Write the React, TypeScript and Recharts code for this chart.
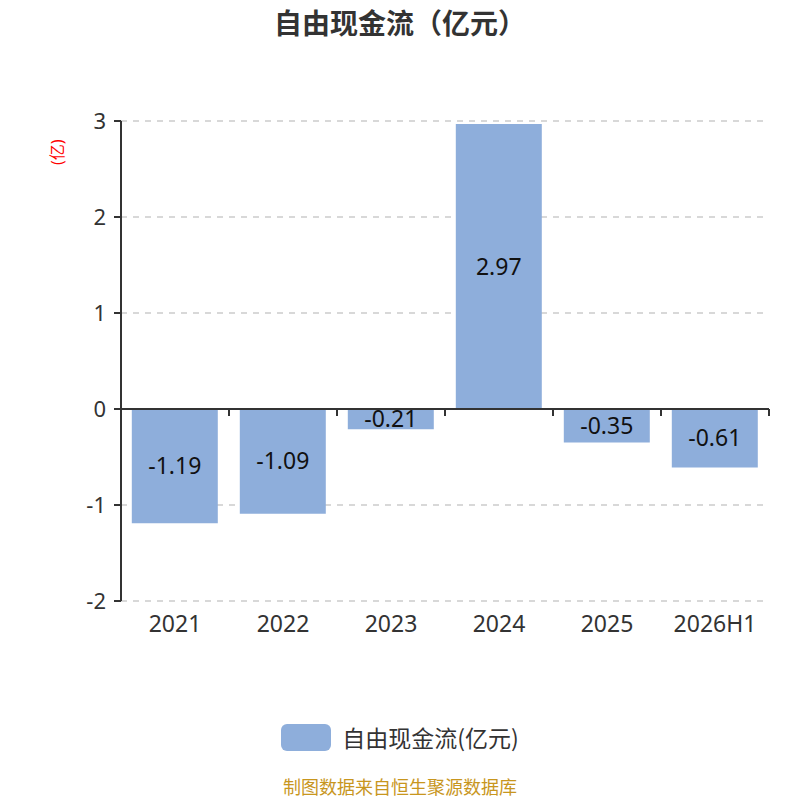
import React from 'react';
import { BarChart, Bar, XAxis, YAxis, CartesianGrid, ReferenceLine, LabelList } from 'recharts';

const categories = ['2021', '2022', '2023', '2024', '2025', '2026H1'];
const values = [-1.19, -1.09, -0.21, 2.97, -0.35, -0.61];
const yTicks = [-2, -1, 0, 1, 2, 3];
const seriesName = '自由现金流(亿元)';
const titleText = '自由现金流（亿元）';
const unitLabel = '(亿)';
const sourceText = '制图数据来自恒生聚源数据库';

const data = categories.map((c, i) => ({ name: c, value: values[i] }));

const FONT = '"Noto Sans", "Noto Sans CJK SC", sans-serif';
const CJK = '"Noto Sans CJK SC", sans-serif';
const BAR_COLOR = '#8eaedb';

const ZeroAxis = (props: any) => {
  const { x1, y1, x2 } = props;
  const n = categories.length;
  const step = (x2 - x1) / n;
  const ticks = [];
  for (let k = 0; k <= n; k++) {
    const x = x1 + k * step;
    ticks.push(<line key={k} x1={x} x2={x} y1={y1} y2={y1 + 7} stroke="#333" strokeWidth={2} />);
  }
  return (
    <g>
      <line x1={x1} x2={x2} y1={y1} y2={y1} stroke="#333" strokeWidth={2} />
      {ticks}
    </g>
  );
};

export default function App() {
  return (
    <div style={{ position: 'absolute', left: 0, top: 0, width: 800, height: 800, background: '#fff', fontFamily: FONT, overflow: 'hidden' }}>
      <div style={{ position: 'absolute', top: 2, left: 0, width: 800, textAlign: 'center', fontSize: 28, lineHeight: '40px', fontWeight: 'bold', color: '#333', fontFamily: CJK }}>
        {titleText}
      </div>
      <BarChart
        width={800}
        height={800}
        data={data}
        margin={{ top: 121, right: 31, left: 61, bottom: 159 }}
        barCategoryGap="10%"
      >
        <CartesianGrid horizontal vertical={false} stroke="#ccc" strokeDasharray="6 6" strokeWidth={1.5} />
        <XAxis
          dataKey="name"
          axisLine={false}
          tickLine={false}
          height={40}
          tick={{ fontSize: 23, fill: '#333', fontFamily: FONT }}
          tickMargin={9}
          interval={0}
        />
        <YAxis
          width={60}
          domain={[-2, 3]}
          ticks={yTicks}
          allowDataOverflow
          axisLine={{ stroke: '#333', strokeWidth: 2 }}
          tickLine={{ stroke: '#333', strokeWidth: 2 }}
          tickSize={7}
          tickMargin={8}
          tick={{ fontSize: 22, fill: '#333', fontFamily: FONT }}
          label={{ value: unitLabel, angle: -90, position: 'insideLeft', offset: 0, dx: -4, dy: -196, fill: '#ff0000', fontSize: 16, fontFamily: FONT } as any}
        />
        <Bar dataKey="value" fill={BAR_COLOR} isAnimationActive={false}>
          <LabelList dataKey="value" position="center" fill="#111" fontSize={23} fontFamily={FONT} />
        </Bar>
        <ReferenceLine y={0} shape={ZeroAxis} />
      </BarChart>
      <div style={{ position: 'absolute', top: 720, left: 0, width: 800, display: 'flex', justifyContent: 'center', alignItems: 'center' }}>
        <div style={{ width: 50, height: 27, background: BAR_COLOR, borderRadius: 6, marginRight: 11 }} />
        <span style={{ fontSize: 23, color: '#333', fontFamily: CJK }}>{seriesName}</span>
      </div>
      <div style={{ position: 'absolute', top: 776, left: 0, width: 800, textAlign: 'center', fontSize: 18, lineHeight: '20px', color: '#c8961e', fontFamily: CJK }}>
        {sourceText}
      </div>
    </div>
  );
}
